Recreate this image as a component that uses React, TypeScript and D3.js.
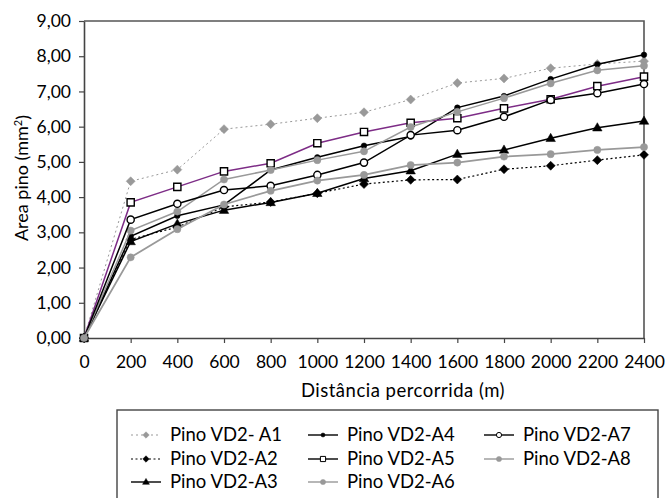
import React, { useEffect, useRef } from "react";
import * as d3 from "d3";

// distâncias (m) e área do pino (mm²)
const distances = [0, 200, 400, 600, 800, 1000, 1200, 1400, 1600, 1800, 2000, 2200, 2400];
const yTicks = [0, 1, 2, 3, 4, 5, 6, 7, 8, 9];

const pinoA1 = [0, 4.45, 4.78, 5.93, 6.07, 6.24, 6.41, 6.77, 7.24, 7.37, 7.66, 7.78, 7.86];
const pinoA2 = [0, 2.8, 3.15, 3.72, 3.86, 4.11, 4.37, 4.49, 4.5, 4.79, 4.89, 5.05, 5.2];
const pinoA3 = [0, 2.74, 3.24, 3.63, 3.85, 4.11, 4.53, 4.75, 5.22, 5.34, 5.67, 5.97, 6.16];
const pinoA4 = [0, 2.89, 3.47, 3.78, 4.77, 5.13, 5.46, 5.72, 6.54, 6.87, 7.35, 7.77, 8.04];
const pinoA5 = [0, 3.85, 4.29, 4.73, 4.96, 5.53, 5.85, 6.11, 6.24, 6.52, 6.78, 7.15, 7.42];
const pinoA6 = [0, 3.05, 3.59, 4.5, 4.77, 5.05, 5.3, 5.99, 6.42, 6.81, 7.23, 7.6, 7.73];
const pinoA7 = [0, 3.36, 3.81, 4.2, 4.32, 4.63, 4.98, 5.76, 5.9, 6.28, 6.76, 6.95, 7.21];
const pinoA8 = [0, 2.29, 3.09, 3.79, 4.18, 4.47, 4.63, 4.91, 4.98, 5.15, 5.22, 5.34, 5.42];

const seriesNames = [
  "Pino VD2- A1", "Pino VD2-A2", "Pino VD2-A3", "Pino VD2-A4",
  "Pino VD2-A5", "Pino VD2-A6", "Pino VD2-A7", "Pino VD2-A8",
];

const FONT = "Lato, 'DejaVu Sans', sans-serif";

type Style = {
  line: string; legendLine: string; dash: string | null; width: number;
  marker: string; fill: string; stroke: string; r: number;
};

const styles: Style[] = [
  { line: "#999", legendLine: "#999", dash: "2,3", width: 1, marker: "diamond", fill: "#999", stroke: "#999", r: 4.5 },
  { line: "#000", legendLine: "#000", dash: "2,2.5", width: 1.2, marker: "diamond", fill: "#000", stroke: "#000", r: 4.5 },
  { line: "#000", legendLine: "#000", dash: null, width: 1.5, marker: "triangle", fill: "#000", stroke: "#000", r: 5 },
  { line: "#000", legendLine: "#000", dash: null, width: 1.5, marker: "circle", fill: "#000", stroke: "#000", r: 2.8 },
  { line: "#7d2c86", legendLine: "#000", dash: null, width: 1.5, marker: "square", fill: "#fff", stroke: "#000", r: 3.6 },
  { line: "#999", legendLine: "#999", dash: null, width: 1.5, marker: "circle", fill: "#999", stroke: "#999", r: 3.6 },
  { line: "#000", legendLine: "#000", dash: null, width: 1.5, marker: "circle", fill: "#fff", stroke: "#000", r: 3.6 },
  { line: "#999", legendLine: "#999", dash: null, width: 1.8, marker: "circle", fill: "#999", stroke: "#999", r: 3.6 },
];

function markerPath(kind: string, r: number) {
  if (kind === "diamond") return `M0,${-r}L${r},0L0,${r}L${-r},0Z`;
  if (kind === "square") return `M${-r},${-r}H${r}V${r}H${-r}Z`;
  if (kind === "triangle") return `M0,${-r}L${r * 0.95},${r * 0.65}L${-r * 0.95},${r * 0.65}Z`;
  return `M${r},0A${r},${r},0,1,1,${-r},0A${r},${r},0,1,1,${r},0Z`;
}

const App = () => {
  const svgRef = useRef<SVGSVGElement>(null);

  useEffect(() => {
    const svg = d3.select(svgRef.current);
    svg.selectAll("*").remove();

    const x = d3.scaleLinear().domain([0, 2400]).range([84, 644]);
    const y = d3.scaleLinear().domain([0, 9]).range([338, 21]);
    const data = [pinoA1, pinoA2, pinoA3, pinoA4, pinoA5, pinoA6, pinoA7, pinoA8];

    // borda da área do gráfico
    svg.append("path")
      .attr("d", `M${x(0)},${y(9)}H${x(2400)}V${y(0)}`)
      .attr("fill", "none").attr("stroke", "#555").attr("stroke-width", 1.6);

    const fmt = (d: number) => d3.format(".2f")(d).replace(".", ",");

    const yAxis = svg.append("g")
      .attr("transform", `translate(${x(0)},0)`)
      .call(d3.axisLeft(y).tickValues(yTicks).tickFormat(fmt as any).tickSize(5).tickPadding(8).tickSizeOuter(0));
    yAxis.attr("font-family", FONT).attr("font-size", 17.5);
    yAxis.selectAll("text").attr("fill", "#000");

    const xAxis = svg.append("g")
      .attr("transform", `translate(0,${y(0)})`)
      .call(d3.axisBottom(x).tickValues(distances).tickFormat(d3.format("d") as any).tickSize(5).tickSizeOuter(0));
    xAxis.attr("font-family", FONT).attr("font-size", 17.5);
    xAxis.selectAll("text").attr("y", 24).attr("dy", "0.35em").attr("fill", "#000");
    svg.selectAll(".domain").attr("stroke", "#444").attr("stroke-width", 1.6);
    svg.selectAll(".tick line").attr("stroke", "#444").attr("stroke-width", 1.2);

    // títulos dos eixos
    svg.append("text")
      .attr("x", 403).attr("y", 391).attr("dy", "0.35em")
      .attr("text-anchor", "middle").attr("font-family", FONT).attr("font-size", 18.5)
      .attr("letter-spacing", 0.5)
      .text("Distância percorrida (m)");

    const yt = svg.append("text")
      .attr("transform", "translate(22,178) rotate(-90)")
      .attr("text-anchor", "middle").attr("dy", "0.35em")
      .attr("font-family", FONT).attr("font-size", 18);
    yt.append("tspan").text("Area pino (mm");
    yt.append("tspan").attr("font-size", 11).attr("dy", "-0.6em").text("2");
    yt.append("tspan").attr("dy", "0.4em").text(")");

    // séries
    const line = d3.line<number>().x((_, i) => x(distances[i])).y((d) => y(d));
    data.forEach((vals, k) => {
      const st = styles[k];
      const g = svg.append("g");
      g.append("path")
        .attr("d", line(vals))
        .attr("fill", "none")
        .attr("stroke", st.line)
        .attr("stroke-width", st.width)
        .attr("stroke-dasharray", st.dash);
      g.selectAll("path.m")
        .data(vals)
        .join("path")
        .attr("class", "m")
        .attr("transform", (d, i) => `translate(${x(distances[i])},${y(d)})`)
        .attr("d", markerPath(st.marker, st.r))
        .attr("fill", st.fill)
        .attr("stroke", st.stroke)
        .attr("stroke-width", st.fill === "#fff" ? 1.4 : 0.5);
    });

    // legenda
    svg.append("rect")
      .attr("x", 117).attr("y", 410).attr("width", 541).attr("height", 95)
      .attr("fill", "#fff").attr("stroke", "#444").attr("stroke-width", 1.4);

    const colX = [131, 308, 484];
    const rowY = [435, 459, 482];
    seriesNames.forEach((name, k) => {
      const col = Math.floor(k / 3);
      const row = k % 3;
      const st = styles[k];
      const lx = colX[col];
      const ly = rowY[row];
      const g = svg.append("g");
      g.append("line")
        .attr("x1", lx).attr("x2", lx + 30).attr("y1", ly).attr("y2", ly)
        .attr("stroke", st.legendLine).attr("stroke-width", st.dash ? 1 : 1.4)
        .attr("stroke-dasharray", st.dash);
      g.append("path")
        .attr("transform", `translate(${lx + 15},${ly})`)
        .attr("d", markerPath(st.marker, st.r * 0.72))
        .attr("fill", st.fill).attr("stroke", st.stroke)
        .attr("stroke-width", st.fill === "#fff" ? 1 : 0.5);
      g.append("text")
        .attr("x", lx + 39).attr("y", ly).attr("dy", "0.35em")
        .attr("font-family", FONT).attr("font-size", 18.5)
        .text(name);
    });
  }, []);

  return (
    <svg
      ref={svgRef}
      width={669}
      height={498}
      style={{ position: "absolute", left: 0, top: 0, background: "#fff" }}
    />
  );
};

export default App;
